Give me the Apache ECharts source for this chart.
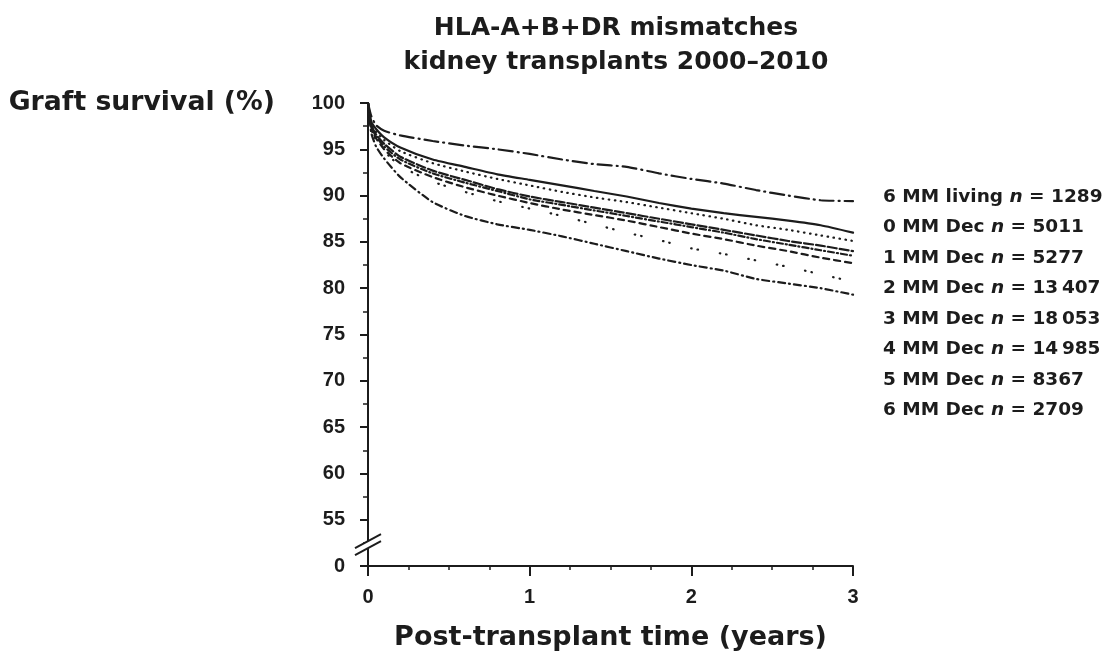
<!DOCTYPE html>
<html>
<head>
<meta charset="utf-8">
<title>HLA-A+B+DR mismatches — graft survival</title>
<script src="https://cdn.jsdelivr.net/npm/echarts@6/dist/echarts.min.js"></script>
<style>
  html, body { margin: 0; padding: 0; background: #fff; }
  #chart { width: 1107px; height: 653px; }
</style>
</head>
<body>
<div id="chart"></div>
<script>
// Follow-up times (years after transplant)
const years = [0, 0.02, 0.05, 0.1, 0.2, 0.4, 0.6, 0.8, 1, 1.2, 1.4, 1.6, 1.8, 2, 2.2, 2.4, 2.6, 2.8, 3];

// Graft survival (%) per mismatch group
const mm6Living = [100, 98.6, 97.6, 97.0, 96.5, 95.9, 95.4, 95.0, 94.5, 93.9, 93.4, 93.1, 92.4, 91.8, 91.3, 90.6, 90.0, 89.5, 89.4];
const mm0Dec    = [100, 98.0, 97.2, 96.3, 95.2, 93.9, 93.1, 92.3, 91.7, 91.1, 90.5, 89.9, 89.2, 88.6, 88.1, 87.7, 87.3, 86.8, 86.0];
const mm1Dec    = [100, 97.8, 96.9, 96.0, 94.8, 93.5, 92.6, 91.8, 91.1, 90.4, 89.8, 89.3, 88.7, 88.1, 87.5, 86.8, 86.3, 85.7, 85.1];
const mm2Dec    = [100, 97.6, 96.6, 95.6, 94.2, 92.7, 91.7, 90.7, 89.9, 89.3, 88.7, 88.1, 87.5, 86.9, 86.3, 85.7, 85.1, 84.6, 84.0];
const mm3Dec    = [100, 97.5, 96.4, 95.3, 93.9, 92.4, 91.4, 90.5, 89.6, 89.0, 88.4, 87.8, 87.2, 86.6, 86.0, 85.3, 84.7, 84.1, 83.5];
const mm4Dec    = [100, 97.4, 96.2, 95.0, 93.5, 92.0, 90.9, 90.0, 89.2, 88.5, 87.9, 87.3, 86.6, 85.9, 85.3, 84.6, 84.0, 83.3, 82.7];
const mm5Dec    = [100, 97.2, 96.0, 94.8, 93.2, 91.5, 90.4, 89.4, 88.6, 87.8, 86.9, 86.0, 85.2, 84.3, 83.7, 83.0, 82.3, 81.5, 80.7];
const mm6Dec    = [100, 96.8, 95.3, 94.0, 92.0, 89.3, 87.8, 86.9, 86.3, 85.6, 84.8, 84.0, 83.2, 82.5, 81.9, 81.0, 80.5, 80.0, 79.3];

// Group names and patient counts shown in the key
const groupNames  = ['6 MM living', '0 MM Dec', '1 MM Dec', '2 MM Dec', '3 MM Dec', '4 MM Dec', '5 MM Dec', '6 MM Dec'];
const groupCounts = ['1289', '5011', '5277', '13\u2009407', '18\u2009053', '14\u2009985', '8367', '2709'];
const groupValues = [mm6Living, mm0Dec, mm1Dec, mm2Dec, mm3Dec, mm4Dec, mm5Dec, mm6Dec];

// Y axis tick labels (the bottom tick stands for 0 across the axis break)
const yTicks = [50, 55, 60, 65, 70, 75, 80, 85, 90, 95, 100];
const yTickLabels = ['0', '55', '60', '65', '70', '75', '80', '85', '90', '95', '100'];
const xTickLabels = ['0', '1', '2', '3'];

// Line patterns for each group
const dashPatterns = [
  [14, 5, 1, 5],     // 6 MM living: long dash-dot
  'solid',           // 0 MM
  [0.5, 5.5],        // 1 MM: fine dots
  [9, 3],            // 2 MM: long dashes
  [6, 3, 1, 3],      // 3 MM: dash-dot
  [6, 5],            // 4 MM: dashes
  [0.5, 6, 0.5, 22], // 5 MM: paired dots
  [7, 4, 1, 4]       // 6 MM deceased: dash-dot
];

const FONT = "'Liberation Sans', Arial, Helvetica, sans-serif";
const WIDE = "'DejaVu Sans', Verdana, sans-serif";
const INK = '#1c1c1c';

const chart = echarts.init(document.getElementById('chart'), null, { renderer: 'canvas' });

const series = groupNames.map((name, gi) => ({
  name: name,
  type: 'line',
  data: years.map((t, i) => [t, groupValues[gi][i]]),
  symbol: 'none',
  smooth: 0.2,
  lineStyle: { color: INK, width: 2.2, type: dashPatterns[gi], cap: 'round' },
  itemStyle: { color: INK },
  emphasis: { disabled: true },
  z: 3
}));

chart.setOption({
  animation: false,
  backgroundColor: '#ffffff',
  title: {
    text: 'HLA-A+B+DR mismatches\nkidney transplants 2000\u20132010',
    left: 611,
    top: 6,
    textAlign: 'center',
    textStyle: { fontFamily: WIDE, fontWeight: 'bold', fontSize: 25, lineHeight: 34, color: INK }
  },
  grid: { left: 368, right: 254, top: 103, bottom: 87, containLabel: false, outerBoundsMode: 'none' },
  legend: {
    data: groupNames,
    orient: 'vertical',
    left: 873,
    top: 182,
    icon: 'none',
    itemWidth: 0,
    itemHeight: 14,
    itemGap: 10.5,
    selectedMode: false,
    formatter: function (name) {
      const i = groupNames.indexOf(name);
      return '{a|' + name + ' }{i|n}{a| = ' + groupCounts[i] + '}';
    },
    textStyle: {
      fontFamily: WIDE, fontWeight: 'bold', fontSize: 18.5, color: INK, lineHeight: 20,
      rich: {
        a: { fontFamily: WIDE, fontWeight: 'bold', fontSize: 18.5, color: INK },
        i: { fontFamily: WIDE, fontWeight: 'bold', fontStyle: 'italic', fontSize: 18.5, color: INK }
      }
    }
  },
  xAxis: {
    type: 'value',
    min: 0,
    max: 3,
    interval: 1,
    name: 'Post-transplant time (years)',
    nameLocation: 'middle',
    nameGap: 58,
    nameTextStyle: { fontFamily: WIDE, fontWeight: 'bold', fontSize: 27, color: INK },
    axisLine: { show: true, onZero: false, lineStyle: { color: INK, width: 2 } },
    axisTick: { show: true, inside: false, length: 10, lineStyle: { color: INK, width: 2 } },
    minorTick: { show: true, splitNumber: 4, length: 4, lineStyle: { color: INK, width: 1.5 } },
    axisLabel: {
      fontFamily: FONT, fontWeight: 'bold', fontSize: 20, color: INK, margin: 21,
      formatter: v => xTickLabels[Math.round(v)]
    },
    splitLine: { show: false }
  },
  yAxis: {
    type: 'value',
    min: 50,
    max: 100,
    interval: 5,
    name: 'Graft survival (%)',
    nameLocation: 'end',
    nameGap: 0,
    nameTextStyle: {
      fontFamily: WIDE, fontWeight: 'bold', fontSize: 26.7, color: INK,
      align: 'right', verticalAlign: 'middle', padding: [0, 93, 0, 0]
    },
    axisLine: { show: true, lineStyle: { color: INK, width: 2 } },
    axisTick: { show: true, inside: false, length: 8, lineStyle: { color: INK, width: 2 } },
    minorTick: { show: true, splitNumber: 2, length: 5, lineStyle: { color: INK, width: 1.5 } },
    axisLabel: {
      fontFamily: FONT, fontWeight: 'bold', fontSize: 20, color: INK, margin: 23,
      formatter: v => yTickLabels[yTicks.indexOf(v)]
    },
    splitLine: { show: false }
  },
  series: series
});

// Axis break marks: two parallel slashes across the y axis between 0 and 55
function drawBreak() {
  const p = chart.convertToPixel({ xAxisIndex: 0, yAxisIndex: 0 }, [0, 52.3]);
  const x = p[0], y = p[1];
  const half = 13, rise = 7, sep = 7;
  chart.setOption({
    graphic: [
      {
        type: 'polygon', z: 10, silent: true,
        shape: { points: [[x - half, y + rise - sep / 2], [x + half, y - rise - sep / 2], [x + half, y - rise + sep / 2], [x - half, y + rise + sep / 2]] },
        style: { fill: '#ffffff' }
      },
      {
        type: 'line', z: 11, silent: true,
        shape: { x1: x - half, y1: y + rise - sep / 2, x2: x + half, y2: y - rise - sep / 2 },
        style: { stroke: INK, lineWidth: 2 }
      },
      {
        type: 'line', z: 11, silent: true,
        shape: { x1: x - half, y1: y + rise + sep / 2, x2: x + half, y2: y - rise + sep / 2 },
        style: { stroke: INK, lineWidth: 2 }
      }
    ]
  });
}
drawBreak();
</script>
</body>
</html>
